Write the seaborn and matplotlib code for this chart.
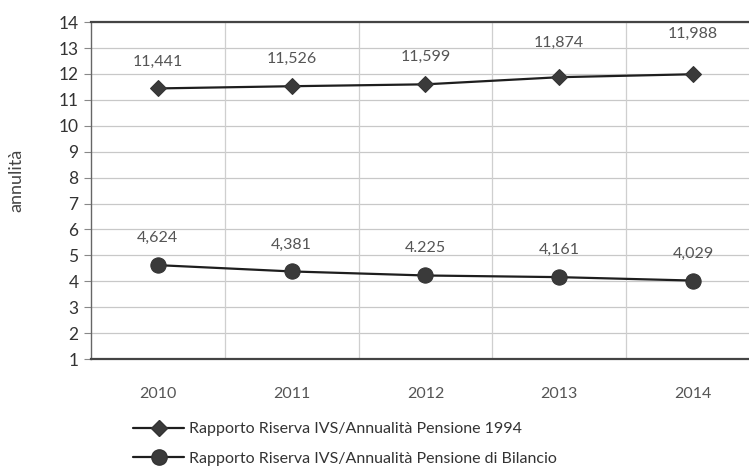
import matplotlib
matplotlib.use("Agg")
import matplotlib.pyplot as plt
import seaborn as sns
import pandas as pd
from matplotlib.lines import Line2D

years = ["2010", "2011", "2012", "2013", "2014"]
serie_1994 = [11.441, 11.526, 11.599, 11.874, 11.988]
serie_bilancio = [4.624, 4.381, 4.225, 4.161, 4.029]
label_1994 = ["11,441", "11,526", "11,599", "11,874", "11,988"]
label_bilancio = ["4,624", "4,381", "4.225", "4,161", "4,029"]
name_1994 = "Rapporto Riserva IVS/Annualità Pensione 1994"
name_bilancio = "Rapporto Riserva IVS/Annualità Pensione di Bilancio"
yticks = list(range(1, 15))

sns.set_theme(style="white")
plt.rcParams["font.family"] = ["Lato", "DejaVu Sans"]

df = pd.DataFrame({
    "anno": years * 2,
    "valore": serie_1994 + serie_bilancio,
    "serie": [name_1994] * len(years) + [name_bilancio] * len(years),
})

fig = plt.figure(figsize=(7.49, 4.70), dpi=100)
ax = fig.add_axes([0.1215, 0.236, 0.893, 0.717])

sns.lineplot(data=df, x="anno", y="valore", hue="serie", style="serie",
             markers={name_1994: "D", name_bilancio: "o"}, dashes=False,
             palette={name_1994: "#1e1e1e", name_bilancio: "#1e1e1e"},
             markersize=8, linewidth=1.6, markeredgecolor="#333333",
             sort=False, legend=False, ax=ax)
for ln, ms in zip(ax.lines, [8, 11]):
    ln.set_markersize(ms)
    ln.set_markerfacecolor("#3a3a3a")

ax.set_xlim(-0.5, len(years) - 0.5)
ax.set_ylim(1, 14)
ax.set_yticks(yticks)
ax.set_yticklabels([str(t) for t in yticks])
ax.set_xticks(range(len(years)))
ax.set_xticklabels(years)
ax.set_xlabel("")
ax.set_ylabel("annulità", fontsize=13, color="#444444")
ax.yaxis.set_label_coords(-0.1, 0.53)

for t in yticks:
    ax.axhline(t, color="#c8c8c8", linewidth=0.9, zorder=0)
for i in range(1, len(years)):
    ax.axvline(i - 0.5, color="#cfcfcf", linewidth=0.9, zorder=0)

for s in ["top", "bottom"]:
    ax.spines[s].set_color("#444444")
    ax.spines[s].set_linewidth(1.6)
ax.spines["left"].set_color("#666666")
ax.spines["left"].set_linewidth(1.0)
ax.spines["right"].set_visible(False)

ax.tick_params(axis="y", which="both", left=True, length=5, width=0.8,
               color="#888888", labelsize=12.5, labelcolor="#333333", pad=4)
ax.tick_params(axis="x", bottom=True, length=5, width=0.8, color="#cccccc",
               labelsize=11.5, labelcolor="#555555", pad=20)
ax.set_xticks([i - 0.5 for i in range(len(years) + 1)], minor=True)
ax.tick_params(axis="x", which="major", length=0)
ax.tick_params(axis="x", which="minor", length=5, color="#cccccc")

offsets_top = [27, 27, 27, 34, 40]
offsets_bot = [27, 27, 27, 27, 27]
for i, (v, lab) in enumerate(zip(serie_1994, label_1994)):
    ax.annotate(lab, (i, v), xytext=(0, offsets_top[i]), textcoords="offset pixels",
                ha="center", va="center", fontsize=11.5, color="#555555")
for i, (v, lab) in enumerate(zip(serie_bilancio, label_bilancio)):
    ax.annotate(lab, (i, v), xytext=(0, offsets_bot[i]), textcoords="offset pixels",
                ha="center", va="center", fontsize=11.5, color="#555555")

handles = [
    Line2D([], [], color="#1e1e1e", linewidth=1.6, marker="D", markersize=8,
           markerfacecolor="#3a3a3a", markeredgecolor="#333333"),
    Line2D([], [], color="#1e1e1e", linewidth=1.6, marker="o", markersize=11,
           markerfacecolor="#3a3a3a", markeredgecolor="#333333"),
]
fig.legend(handles, [name_1994, name_bilancio], loc="upper left",
           bbox_to_anchor=(0.178, 0.102), frameon=False, fontsize=11.5,
           labelcolor="#333333", handlelength=3.2, handletextpad=0.3,
           labelspacing=0.95, borderaxespad=0, borderpad=0)

fig.savefig("out.png", dpi=100)
